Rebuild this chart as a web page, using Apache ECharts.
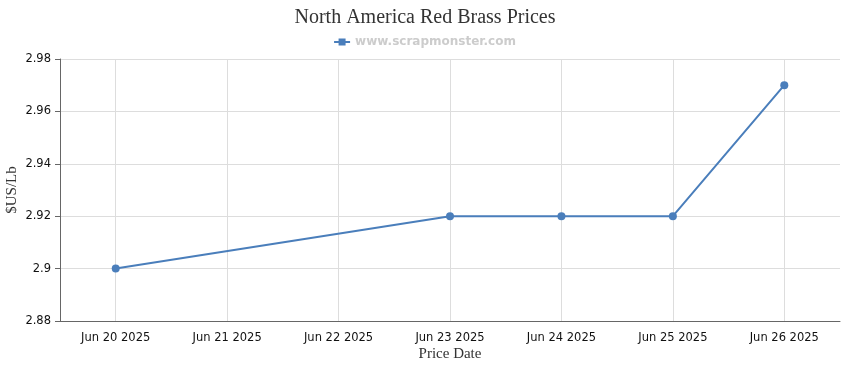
<!DOCTYPE html>
<html><head><meta charset="utf-8">
<script src="https://cdn.jsdelivr.net/npm/echarts@6/dist/echarts.min.js"></script>
<style>html,body{margin:0;padding:0;background:#fff}#c{width:850px;height:370px}</style>
</head><body><div id="c"></div>
<script>
const categories = ['Jun 20 2025','Jun 21 2025','Jun 22 2025','Jun 23 2025','Jun 24 2025','Jun 25 2025','Jun 26 2025'];
const prices = [2.90, null, null, 2.92, 2.92, 2.92, 2.97];
const seriesName = 'www.scrapmonster.com';
const titleText = 'North America Red Brass Prices';

const chart = echarts.init(document.getElementById('c'), null, {renderer:'canvas'});
chart.setOption({
  animation:false,
  title:{text:titleText,left:'center',top:3,textStyle:{fontFamily:'Liberation Serif',fontSize:20,fontWeight:'normal',color:'#333'}},
  legend:{top:31,left:'center',itemWidth:16,itemHeight:8,icon:'path://M0,3H16V5H0Z M4.5,0.5H11.5V7.5H4.5Z',
    textStyle:{fontFamily:'DejaVu Sans',fontSize:12,fontWeight:'bold',color:'#cccccc'},data:[seriesName]},
  grid:{left:60,right:10,top:59,bottom:49,containLabel:false,outerBoundsMode:'none'},
  xAxis:{type:'category',data:categories,boundaryGap:true,
    name:'Price Date',nameLocation:'middle',nameGap:26,nameMoveOverlap:false,
    nameTextStyle:{fontFamily:'Liberation Serif',fontSize:15,color:'#333'},
    axisLine:{lineStyle:{color:'#666'}},
    axisTick:{alignWithLabel:true,length:5,lineStyle:{color:'#666'}},
    axisLabel:{fontFamily:'DejaVu Sans',fontSize:11.5,color:'#111',margin:11,interval:0},
    splitLine:{show:true,alignWithLabel:true,interval:0,lineStyle:{color:'#dddddd'}}},
  yAxis:{type:'value',min:2.88,max:2.98,interval:0.02,
    name:'$US/Lb',nameLocation:'middle',nameGap:40,nameRotate:90,nameMoveOverlap:false,
    nameTextStyle:{fontFamily:'Liberation Serif',fontSize:15,color:'#333'},
    axisLine:{show:true,lineStyle:{color:'#666'}},
    axisTick:{show:true,length:5,lineStyle:{color:'#666'}},
    axisLabel:{fontFamily:'DejaVu Sans',fontSize:11.5,color:'#111',margin:9},
    splitLine:{show:true,lineStyle:{color:'#dddddd'}}},
  series:[{name:seriesName,type:'line',data:prices,connectNulls:true,
    symbol:'circle',symbolSize:8,showSymbol:true,
    lineStyle:{color:'#4a7ebb',width:2},itemStyle:{color:'#4a7ebb'}}]
});
</script></body></html>
